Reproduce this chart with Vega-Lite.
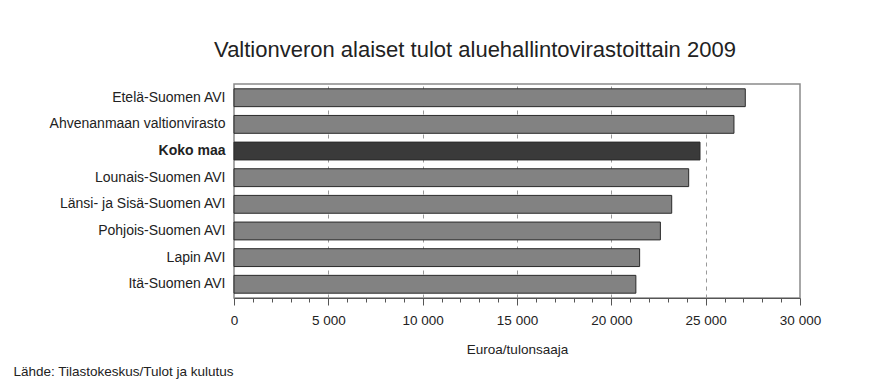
{
  "$schema": "https://vega.github.io/schema/vega-lite/v6.json",
  "width": 566,
  "height": 214,
  "autosize": {"type": "none"},
  "padding": {"left": 234, "top": 84, "right": 78, "bottom": 84},
  "background": "white",
  "config": {
    "font": "Liberation Sans",
    "view": {"stroke": "#8a8a8a", "strokeWidth": 1.5}
  },
  "title": {
    "text": "Valtionveron alaiset tulot aluehallintovirastoittain 2009",
    "fontSize": 22,
    "fontWeight": "normal",
    "color": "#222222",
    "anchor": "middle",
    "dx": -42,
    "offset": 5,
    "baseline": "alphabetic"
  },
  "data": {
    "values": [
      {"alue": "Etelä-Suomen AVI", "tulot": 27100},
      {"alue": "Ahvenanmaan valtionvirasto", "tulot": 26500},
      {"alue": "Koko maa", "tulot": 24700},
      {"alue": "Lounais-Suomen AVI", "tulot": 24100},
      {"alue": "Länsi- ja Sisä-Suomen AVI", "tulot": 23200},
      {"alue": "Pohjois-Suomen AVI", "tulot": 22600},
      {"alue": "Lapin AVI", "tulot": 21500},
      {"alue": "Itä-Suomen AVI", "tulot": 21300}
    ]
  },
  "mark": {"type": "bar", "stroke": "#2a2a2a", "strokeWidth": 1},
  "encoding": {
    "y": {
      "field": "alue",
      "type": "nominal",
      "sort": null,
      "scale": {"paddingInner": 0.33, "paddingOuter": 0.18},
      "axis": {
        "title": "Lähde: Tilastokeskus/Tulot ja kulutus",
        "titleAngle": 0,
        "titleAlign": "left",
        "titleBaseline": "alphabetic",
        "titleX": -221,
        "titleY": 291,
        "titleFontSize": 13.5,
        "titleFontWeight": "normal",
        "titleColor": "#222222",
        "ticks": false,
        "domain": false,
        "labelFontSize": 14,
        "labelColor": "#222222",
        "labelPadding": 9,
        "labelLimit": 300,
        "labelFontWeight": {"condition": {"test": "datum.value == 'Koko maa'", "value": "bold"}, "value": "normal"}
      }
    },
    "x": {
      "field": "tulot",
      "type": "quantitative",
      "scale": {"domain": [0, 30000], "nice": false},
      "axis": {
        "title": "Euroa/tulonsaaja",
        "titleFontSize": 13.5,
        "titleFontWeight": "normal",
        "titleColor": "#222222",
        "titlePadding": 16,
        "values": [0,1000,2000,3000,4000,5000,6000,7000,8000,9000,10000,11000,12000,13000,14000,15000,16000,17000,18000,19000,20000,21000,22000,23000,24000,25000,26000,27000,28000,29000,30000],
        "labelExpr": "datum.value % 5000 == 0 ? replace(format(datum.value, ','), ',', ' ') : ''",
        "labelFontSize": 13.5,
        "labelColor": "#222222",
        "labelPadding": 8,
        "labelFlush": false,
        "labelOverlap": false,
        "domainColor": "#555555",
        "tickColor": "#555555",
        "tickSize": {"condition": {"test": "datum.value % 5000 == 0", "value": 7}, "value": 4},
        "grid": true,
        "gridColor": "#999999",
        "gridDash": [4, 4],
        "gridOpacity": {"condition": {"test": "datum.value % 5000 == 0 && datum.value > 0 && datum.value < 30000", "value": 1}, "value": 0}
      }
    },
    "color": {
      "condition": {"test": "datum.alue == 'Koko maa'", "value": "#3a3a3a"},
      "value": "#828282"
    }
  }
}
